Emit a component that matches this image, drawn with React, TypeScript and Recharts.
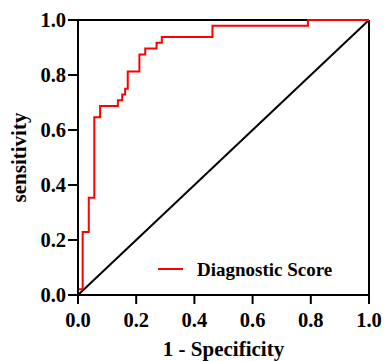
import React from "react";
import {
  LineChart,
  Line,
  XAxis,
  YAxis,
  ReferenceLine,
  Customized,
} from "recharts";

// ROC curve vertices (1 - specificity, sensitivity)
const rocFpr = [0, 0, 0.016, 0.037, 0.056, 0.076, 0.137, 0.152, 0.162, 0.171, 0.211, 0.231, 0.27, 0.288, 0.462, 0.79, 1.0];
const rocTpr = [0, 0.021, 0.229, 0.354, 0.646, 0.6875, 0.708, 0.729, 0.75, 0.8125, 0.875, 0.896, 0.917, 0.938, 0.979, 1.0, 1.0];

// reference diagonal
const refX = [0, 1];
const refY = [0, 1];

const tickValues = [0, 0.2, 0.4, 0.6, 0.8, 1.0];
const seriesName = "Diagnostic Score";
const xTitle = "1 - Specificity";
const yTitle = "sensitivity";

const rocData = rocFpr.map((x, i) => ({ x, roc: rocTpr[i] }));
const refData = refX.map((x, i) => ({ x, ref: refY[i] }));

const FONT = "'Liberation Serif', 'Times New Roman', serif";

const XTick = (props: any) => {
  const { x, y, payload } = props;
  return (
    <text
      x={x}
      y={y}
      dy="0.71em"
      textAnchor="middle"
      fontSize={20.5}
      fontWeight={700}
      fontFamily={FONT}
      fill="#000"
    >
      {Number(payload.value).toFixed(1)}
    </text>
  );
};

const YTick = (props: any) => {
  const { x, y, payload } = props;
  return (
    <text
      x={x}
      y={y}
      dy="0.355em"
      textAnchor="end"
      fontSize={20.5}
      fontWeight={700}
      fontFamily={FONT}
      fill="#000"
    >
      {Number(payload.value).toFixed(1)}
    </text>
  );
};

const YTitle = (props: any) => {
  const vb = props.viewBox || {};
  const cx = 26;
  const cy = vb.y + vb.height / 2;
  return (
    <text
      x={cx}
      y={cy}
      transform={`rotate(-90 ${cx} ${cy})`}
      textAnchor="middle"
      fontSize={21}
      fontWeight={700}
      fontFamily={FONT}
      fill="#000"
    >
      {yTitle}
    </text>
  );
};

const XTitle = (props: any) => {
  const vb = props.viewBox || {};
  const cx = vb.x + vb.width / 2;
  return (
    <text
      x={cx}
      y={356}
      textAnchor="middle"
      fontSize={21}
      fontWeight={700}
      fontFamily={FONT}
      fill="#000"
    >
      {xTitle}
    </text>
  );
};

const LegendSvg = () => (
  <g>
    <line x1={158} y1={269} x2={183} y2={269} stroke="#ff0000" strokeWidth={2} />
    <text
      x={197}
      y={276}
      fontSize={19}
      fontWeight={700}
      fontFamily={FONT}
      fill="#000"
    >
      {seriesName}
    </text>
  </g>
);

export default function App() {
  return (
    <div style={{ position: "absolute", left: 0, top: 0, background: "#fff" }}>
      <LineChart
        width={386}
        height={361}
        margin={{ top: 20, right: 17, left: 0, bottom: 0 }}
      >
        <XAxis
          dataKey="x"
          type="number"
          domain={[0, 1]}
          ticks={tickValues}
          height={66}
          tickSize={9}
          tickMargin={8}
          axisLine={{ stroke: "#000", strokeWidth: 2 }}
          tickLine={{ stroke: "#000", strokeWidth: 2 }}
          tick={<XTick />}
          allowDuplicatedCategory={false}
          label={<XTitle />}
        />
        <YAxis
          type="number"
          domain={[0, 1]}
          ticks={tickValues}
          width={78}
          tickSize={10}
          tickMargin={2}
          axisLine={{ stroke: "#000", strokeWidth: 2 }}
          tickLine={{ stroke: "#000", strokeWidth: 2 }}
          tick={<YTick />}
          label={<YTitle />}
        />
        <ReferenceLine y={1} stroke="#000" strokeWidth={2} />
        <ReferenceLine x={1} stroke="#000" strokeWidth={2} />
        <Line
          data={refData}
          dataKey="ref"
          type="linear"
          stroke="#000"
          strokeWidth={2}
          dot={false}
          isAnimationActive={false}
          legendType="none"
        />
        <Line
          data={rocData}
          dataKey="roc"
          name={seriesName}
          type="stepAfter"
          stroke="#ff0000"
          strokeWidth={2}
          dot={false}
          isAnimationActive={false}
        />
        <Customized component={LegendSvg} />
      </LineChart>
    </div>
  );
}
